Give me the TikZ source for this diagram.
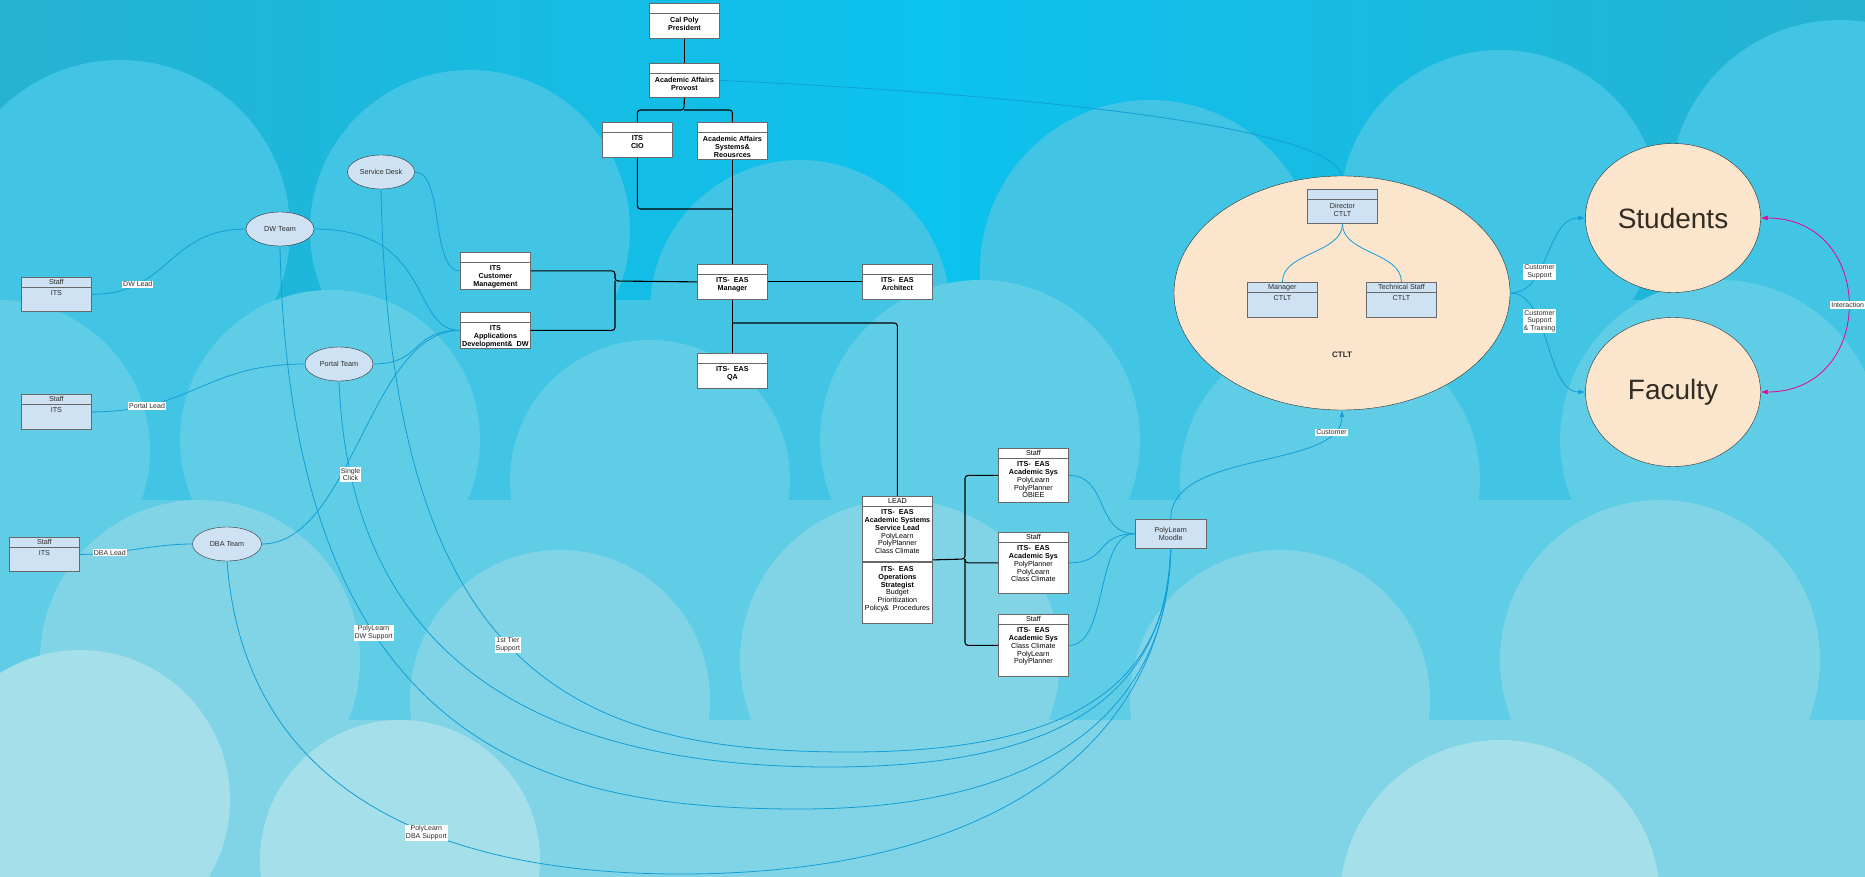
\documentclass[tikz,border=0pt]{standalone}
\usepackage{fontspec}
\setmainfont{Liberation Sans}
\usetikzlibrary{arrows.meta}
\usetikzlibrary{shapes.geometric}
\usetikzlibrary{positioning}

\definecolor{skytop}{RGB}{12,194,238}
\definecolor{skyleft}{RGB}{38,178,210}
\definecolor{skymid}{RGB}{48,190,222}
\definecolor{cloudA}{RGB}{66,197,228}
\definecolor{cloudB}{RGB}{96,205,230}
\definecolor{cloudC}{RGB}{128,212,230}
\definecolor{cloudD}{RGB}{165,223,233}
\definecolor{linkblue}{RGB}{18,158,214}
\definecolor{paleblue}{RGB}{207,226,243}
\definecolor{peach}{RGB}{252,229,205}
\definecolor{boxgray}{RGB}{105,105,105}
\definecolor{inkgray}{RGB}{45,45,45}
\definecolor{darktext}{RGB}{50,44,34}

% header strip of 10pt, then the body text from the top
\newcommand{\boxtext}[3]{%
  \parbox[t][#1][t]{70pt}{\centering
    \rule[-2.6pt]{0pt}{10pt}{\mdseries #2}\par\vspace{3pt}#3}}

\begin{document}
\begin{tikzpicture}
  [x=1pt, y=-1pt,
   >={Latex[length=7pt,width=5pt]},
   orgbox/.style={draw=boxgray, fill=white, line width=0.8pt, inner sep=0pt,
      anchor=north west, font=\fontsize{7.2}{7.8}\selectfont\bfseries,
      path picture={\draw[boxgray, line width=1.2pt]
        ([yshift=-10pt]path picture bounding box.north west) --
        ([yshift=-10pt]path picture bounding box.north east);}},
   staffbox/.style={orgbox, fill=paleblue, text=inkgray,
      font=\fontsize{7.2}{7.8}\selectfont},
   team/.style={shape=ellipse, draw=inkgray, fill=paleblue, inner sep=0pt,
      minimum width=68pt, minimum height=34pt, text=inkgray,
      font=\fontsize{7.2}{8}\selectfont},
   audience/.style={shape=ellipse, draw=inkgray, fill=peach, inner sep=0pt},
   orgline/.style={line width=1.1pt, rounded corners=3pt},
   bluelink/.style={draw=linkblue, line width=0.8pt},
   linklabel/.style={fill=white, inner sep=1pt, text=inkgray, align=center,
      font=\fontsize{7}{7.6}\selectfont}
  ]

 % sky and clouds
 \useasboundingbox (0,0) rectangle (1865,877);
 \fill[top color=skytop, bottom color=skymid] (0,0) rectangle (1865,877);
 \fill[left color=skyleft, right color=skyleft, middle color=skytop] (0,0) rectangle (1865,300);
 \fill[cloudA] (0,300) rectangle (1865,877);
 \fill[cloudA] (120,230) circle (170) (470,230) circle (160) (800,310) circle (150)
   (1150,270) circle (170) (1500,210) circle (160) (1840,190) circle (170);
 \fill[cloudB] (0,500) rectangle (1865,877);
 \fill[cloudB] (0,450) circle (150) (330,440) circle (150) (650,480) circle (140)
   (980,440) circle (160) (1330,480) circle (150) (1720,440) circle (160);
 \fill[cloudC] (0,720) rectangle (1865,877);
 \fill[cloudC] (200,660) circle (160) (560,700) circle (150) (900,660) circle (160)
   (1280,700) circle (150) (1660,660) circle (160);
 \fill[cloudD] (80,800) circle (150) (400,860) circle (140) (1500,900) circle (160);

 \path
   (1342,293) node (ctlt)      [audience, minimum width=336pt, minimum height=234pt] {}
   (1342,355) node (ctltname)  [text=inkgray, font=\fontsize{8}{9}\selectfont\bfseries] {CTLT}
   (1673,218) node (students)  [audience, minimum width=175pt, minimum height=149pt,
                                text=darktext, font=\fontsize{28}{30}\selectfont] {Students}
   (1673,392) node (faculty)   [audience, minimum width=175pt, minimum height=149pt,
                                text=darktext, font=\fontsize{28}{30}\selectfont] {Faculty}
   % org chart, top down
   (649,3)    node (pres)      [orgbox] {\boxtext{35pt}{}{Cal Poly\\President}}
   (649,63)   node (provost)   [orgbox] {\boxtext{34pt}{}{Academic Affairs\\Provost}}
   (602,122)  node (cio)       [orgbox] {\boxtext{35pt}{}{ITS\\CIO}}
   (697,122)  node (aasys)     [orgbox] {\boxtext{37pt}{}{Academic Affairs\\Systems\&\\Reousrces}}
   (697,264)  node (easmgr)    [orgbox] {\boxtext{35pt}{}{ITS-~ EAS\\Manager}}
   (862,264)  node (easarch)   [orgbox] {\boxtext{35pt}{}{ITS-~ EAS\\Architect}}
   (697,353)  node (easqa)     [orgbox] {\boxtext{35pt}{}{ITS-~ EAS\\QA}}
   (460,252)  node (custmgmt)  [orgbox] {\boxtext{37pt}{}{ITS\\Customer\\Management}}
   (460,312)  node (appsdev)   [orgbox] {\boxtext{36pt}{}{ITS\\Applications\\Development\&~ DW}}
   (862,496)  node (lead)      [orgbox] {\boxtext{127pt}{LEAD}{ITS-~ EAS\\Academic Systems\\Service Lead\\
                                {\mdseries PolyLearn\\PolyPlanner\\Class Climate}\par\vspace{10pt}
                                ITS-~ EAS\\Operations\\Strategist\\
                                {\mdseries Budget\\Prioritization\\Policy\&~ Procedures}}}
   (998,448)  node (staffa)    [orgbox] {\boxtext{54pt}{Staff}{ITS-~ EAS\\Academic Sys\\
                                {\mdseries PolyLearn\\PolyPlanner\\OBIEE}}}
   (998,532)  node (staffb)    [orgbox] {\boxtext{61pt}{Staff}{ITS-~ EAS\\Academic Sys\\
                                {\mdseries PolyPlanner\\PolyLearn\\Class Climate}}}
   (998,614)  node (staffc)    [orgbox] {\boxtext{62pt}{Staff}{ITS-~ EAS\\Academic Sys\\
                                {\mdseries Class Climate\\PolyLearn\\PolyPlanner}}}
   (1135,519) node (polylearn) [draw=boxgray, fill=paleblue, anchor=north west, text=inkgray,
                                minimum width=71pt, minimum height=29pt, inner sep=0pt,
                                align=center, font=\fontsize{7.2}{7.8}\selectfont] {PolyLearn\\Moodle}
   % CTLT inside the big ellipse
   (1307,189) node (director)  [staffbox] {\boxtext{34pt}{}{Director\\CTLT}}
   (1247,282) node (ctltmgr)   [staffbox] {\boxtext{35pt}{Manager}{CTLT}}
   (1366,282) node (ctlttech)  [staffbox] {\boxtext{35pt}{Technical Staff}{CTLT}}
   % ITS teams on the left
   (381,172)  node (servicedesk) [team, minimum width=67pt] {Service Desk}
   (280,229)  node (dwteam)      [team] {DW Team}
   (339,364)  node (portalteam)  [team] {Portal Team}
   (227,544)  node (dbateam)     [team, minimum width=69pt] {DBA Team}
   (21,277)   node (itsa)        [staffbox] {\boxtext{34pt}{Staff}{ITS}}
   (21,394)   node (itsb)        [staffbox] {\boxtext{35pt}{Staff}{ITS}}
   (9,537)    node (itsc)        [staffbox] {\boxtext{34pt}{Staff}{ITS}}
   ;

 \coordinate (provjoin)  at (684,110);
 \coordinate (ciojoin)   at (732,209);
 \coordinate (mgrjoin)   at (732,323);
 \coordinate (itsjoin)   at (615,281);
 \coordinate (leadjoin)  at (965,559);
 \coordinate (sdlow)     at (850,752);
 \coordinate (portallow) at (830,767);
 \coordinate (dwlow)     at (800,809);
 \coordinate (dbalow)    at (680,874);

 \draw [boxgray, line width=1.2pt] ([yshift=-66pt]lead.north west) -- ([yshift=-66pt]lead.north east);

 \begin{scope}[orgline]
   \draw (pres) -- (provost);
   \draw (provost.south) -- (provjoin) -| (cio.north);
   \draw (provjoin) -| (aasys.north);
   \draw (cio.south) |- (ciojoin);
   \draw (aasys.south) -- (easmgr.north);
   \draw (easmgr.south) -- (easqa.north);
   \draw (mgrjoin) -| (lead.north);
   \draw (easmgr.east) -- (easarch.west);
   \draw (custmgmt.east) -| (itsjoin) -- (easmgr.west);
   \draw (appsdev.east) -| (itsjoin);
   \draw (staffa.west) -| (leadjoin) -- (lead.east);
   \draw (staffb.west) -| (leadjoin);
   \draw (staffc.west) -| (leadjoin);
 \end{scope}

 \begin{scope}[bluelink]
   \draw (provost.east) .. controls +(230,10) and +(-12,-56) .. (ctlt.north);
   \draw (director.south) .. controls +(0,30) and +(0,-30) .. (ctltmgr.north);
   \draw (director.south) .. controls +(0,30) and +(0,-30) .. (ctlttech.north);
   \draw (servicedesk.east) .. controls +(30,0) and +(-30,0) .. (custmgmt.west);
   \draw (dwteam.east) .. controls +(120,0) and +(-50,0) .. (appsdev.west);
   \draw (portalteam.east) .. controls +(50,0) and +(-50,0) .. (appsdev.west);
   \draw (dbateam.east) .. controls +(90,0) and +(-90,0) .. (appsdev.west);
   \draw (dwteam.west) .. controls +(-78,0) and +(78,0) .. (itsa.east)
     node [linklabel, pos=0.75] {DW Lead};
   \draw (portalteam.west) .. controls +(-100,0) and +(100,0) .. (itsb.east)
     node [linklabel, pos=0.78] {Portal Lead};
   \draw (dbateam.west) .. controls +(-40,0) and +(40,0) .. (itsc.east)
     node [linklabel, pos=0.74] {DBA Lead};
   \draw (staffa.east) .. controls +(40,0) and +(-40,0) .. (polylearn.west);
   \draw (staffb.east) .. controls +(40,0) and +(-40,0) .. (polylearn.west);
   \draw (staffc.east) .. controls +(40,0) and +(-40,0) .. (polylearn.west);
   % support lines down to PolyLearn
   \draw (servicedesk.south) .. controls +(9,491) and +(-270,0) .. (sdlow)
     node [linklabel, pos=0.48] {1st Tier\\Support}
     .. controls +(230,0) and +(-3,132) .. (polylearn.south);
   \draw (portalteam.south) .. controls +(11,279) and +(-290,0) .. (portallow)
     node [linklabel, pos=0.12] {Single\\Click}
     .. controls +(240,0) and +(-5,142) .. (polylearn.south);
   \draw (dwteam.south) .. controls +(10,514) and +(-240,0) .. (dwlow)
     node [linklabel, pos=0.35] {PolyLearn\\DW Support}
     .. controls +(260,0) and +(-2,152) .. (polylearn.south);
   \draw (dbateam.south) .. controls +(18,239) and +(-230,0) .. (dbalow)
     node [linklabel, pos=0.6] {PolyLearn\\DBA Support}
     .. controls +(320,0) and +(-5,192) .. (polylearn.south);
   % CTLT to its audience
   \draw [->] (polylearn.north) .. controls +(0,-70) and +(0,60) .. (ctlt.south)
     node [linklabel, pos=0.85] {Customer};
   \draw [->] (ctlt.east) .. controls +(40,0) and +(-40,0) .. (students.west)
     node [linklabel, pos=0.35] {Customer\\Support};
   \draw [->] (ctlt.east) .. controls +(40,0) and +(-40,0) .. (faculty.west)
     node [linklabel, pos=0.35] {Customer\\Support\\\& Training};
   \draw [<->, draw=magenta] (students.east) .. controls +(116,0) and +(116,0) .. (faculty.east)
     node [linklabel, pos=0.5] {Interaction};
 \end{scope}

\end{tikzpicture}
\end{document}
